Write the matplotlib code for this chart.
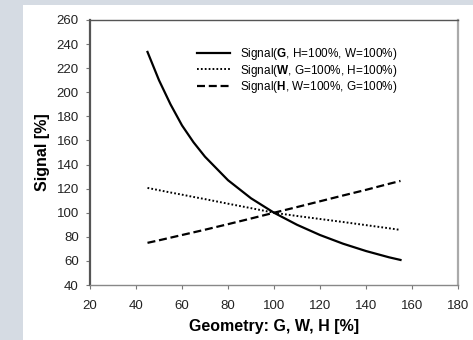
import matplotlib
matplotlib.use("Agg")
import matplotlib.pyplot as plt
import matplotlib.patches as mpatches

plt.rcParams['font.family'] = ['Liberation Sans', 'DejaVu Sans']
plt.rcParams['mathtext.fontset'] = 'custom'
plt.rcParams['mathtext.rm'] = 'Liberation Sans'
plt.rcParams['mathtext.bf'] = 'Liberation Sans:bold'

# geometry values [%]
geom = [45, 50, 55, 60, 65, 70, 80, 90, 100, 110, 120, 130, 140, 150, 155]
sig_g = [233.5, 210, 190, 172.5, 158.5, 146.5, 127, 112, 100, 90, 81.5, 74.3, 68.2, 63, 60.8]
sig_w = [120.6, 118.7, 116.8, 115, 113.1, 111.3, 107.5, 103.8, 100, 97.3, 94.8, 92.3, 89.7, 87.1, 85.7]
sig_h = [75, 77.1, 79.3, 81.5, 83.7, 85.9, 90.5, 95.2, 100, 104.7, 109.5, 114.3, 119, 124, 126.4]

labels = [r'Signal($\mathbf{G}$, H=100%, W=100%)',
          r'Signal($\mathbf{W}$, G=100%, H=100%)',
          r'Signal($\mathbf{H}$, W=100%, G=100%)']

fig = plt.figure(figsize=(4.73, 3.40), dpi=100)
fig.patch.set_facecolor('#d5dbe3')
fig.patches.append(mpatches.Rectangle((23/473, 0), 1 - 23/473, 335/340,
                                      transform=fig.transFigure,
                                      facecolor='white', edgecolor='none',
                                      zorder=-10))

ax = fig.add_axes([90/473, 55/340, 368/473, 265/340])
ax.set_facecolor('white')

ax.plot(geom, sig_g, color='black', lw=1.6, ls='-', label=labels[0])
ax.plot(geom, sig_w, color='black', lw=1.4, ls=(0, (0.9, 1.1)), label=labels[1])
ax.plot(geom, sig_h, color='black', lw=1.6, ls=(0, (3.6, 1.7)), label=labels[2])

ax.set_xlim(20, 180)
ax.set_ylim(40, 260)
ax.set_xticks(range(20, 181, 20))
ax.set_yticks(range(40, 261, 20))
ax.tick_params(direction='out', length=3, width=0.8, color='#777777',
               labelsize=9.5, labelcolor='#222222')
ax.tick_params(axis='x', pad=7.5)
ax.tick_params(axis='y', pad=5)

ax.spines['left'].set_color('#555555')
ax.spines['left'].set_linewidth(1.6)
ax.spines['top'].set_color('#555555')
ax.spines['top'].set_linewidth(1.0)
ax.spines['bottom'].set_color('#888888')
ax.spines['bottom'].set_linewidth(1.0)
ax.spines['right'].set_color('#aaaaaa')
ax.spines['right'].set_linewidth(1.6)

ax.set_xlabel('Geometry: G, W, H [%]', fontsize=11.5, fontweight='bold',
              labelpad=5)
ax.set_ylabel('Signal [%]', fontsize=11.5, fontweight='bold', labelpad=5)

ax.legend(loc='upper left', bbox_to_anchor=(0.277, 0.92), frameon=False,
          fontsize=8.5, handlelength=2.8, handletextpad=0.9,
          labelspacing=0.05, borderaxespad=0)

fig.savefig('out.png', dpi=100)
